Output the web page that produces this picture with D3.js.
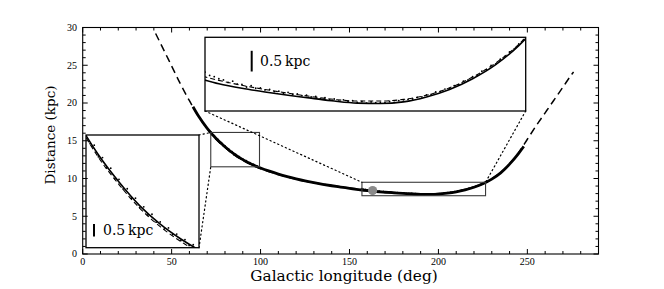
<!DOCTYPE html>
<html><head><meta charset="utf-8">
<script src="https://cdn.jsdelivr.net/npm/d3@7"></script>
<style>body{margin:0;background:#fff} svg{display:block}</style>
</head><body><svg id="c" width="664" height="289"></svg>
<script>
// ---------------- data ----------------
const modelLon  = [41,45,50,55,60,65,70,75,80,85,90,95,100,105,110,115,120,125,130,135,140,145,150,155,160,165,170,175,180,185,190,195,200,205,210,215,220,225,230,235,240,245,250,255,260,265,270,275,276];
const modelDist = [29.2,27.3,24.9,22.5,20.3,18.3,16.6,15.2,14.1,13.15,12.4,11.8,11.3,10.9,10.52,10.2,9.92,9.66,9.44,9.24,9.06,8.9,8.74,8.6,8.46,8.34,8.24,8.15,8.07,8.0,7.96,7.96,8.0,8.1,8.28,8.54,8.88,9.33,9.95,10.8,11.95,13.4,15.2,17.0,18.7,20.4,22.1,23.8,24.1];
const fitLon  = [62,65,70,75,80,85,90,95,100,105,110,115,120,125,130,135,140,145,150,155,160,165,170,175,180,185,190,195,200,205,210,215,220,225,230,235,240,245,248];
const fitDist = [19.5,18.3,16.65,15.3,14.2,13.25,12.5,11.9,11.4,10.97,10.58,10.24,9.94,9.67,9.44,9.23,9.04,8.87,8.7,8.53,8.38,8.27,8.18,8.1,8.03,7.96,7.91,7.9,7.94,8.06,8.24,8.5,8.84,9.3,9.92,10.75,11.9,13.3,14.25];
const starLon = [72,73,74,75,76,77,78,79,80,81,82,83,84,85,86,87,88,89,90,91,92,93,94,95,96,97,98,99,
  157,158,159,160,161,162,163,164,165,166,167,168,169,170,171,172,173,174,175,176,177,178,179,180,181,182,183,184,185,186,187,188,189,190,191,192,193,194,195,196,197,198,199,200,201,202,203,204,205,206,207,208,209,210,211,212,213,214,215,216,217,218,219,220,221,222,223,224,225,226];
const starDist = [16.22,15.75,15.69,15.22,15.19,14.77,14.76,14.33,14.31,13.92,13.93,13.55,13.55,13.17,13.2,12.87,12.9,12.58,12.59,12.31,12.35,12.08,12.1,11.84,11.88,11.64,11.67,11.45,
  8.66,8.58,8.55,8.5,8.47,8.41,8.44,8.37,8.36,8.3,8.33,8.27,8.28,8.23,8.24,8.19,8.2,8.15,8.17,8.12,8.13,8.09,8.1,8.06,8.07,8.02,8.04,7.99,8.01,7.96,7.99,7.95,7.97,7.93,7.95,7.91,7.94,7.92,7.93,7.92,7.95,7.93,7.97,7.96,8.0,8.01,8.05,8.06,8.11,8.12,8.18,8.19,8.25,8.26,8.33,8.36,8.44,8.47,8.55,8.58,8.68,8.72,8.82,8.86,8.97,9.04,9.15,9.22,9.34,9.43];
const sunLon = [163], sunDist = [8.4];
const zoom1Lon = [72, 99.4],  zoom1Dist = [11.55, 16.1];
const zoom2Lon = [157, 226.5], zoom2Dist = [7.72, 9.5];
const xTicks = [0,50,100,150,200,250];
const yTicks = [0,5,10,15,20,25,30];
const scaleBarKpc = 0.5;

// ---------------- layout ----------------
const svg = d3.select('#c');
const M = {l:82.7, r:598.5, t:27.5, b:254};
const x = d3.scaleLinear().domain([0,290]).range([M.l, M.r]);
const y = d3.scaleLinear().domain([0,30]).range([M.b, M.t]);
const pairs = (L, D) => L.map((l,i)=>[l, D[i]]);
const model = pairs(modelLon, modelDist), fit = pairs(fitLon, fitDist), stars = pairs(starLon, starDist);
const mkLine = (sx, sy) => d3.line().x(d=>sx(d[0])).y(d=>sy(d[1])).curve(d3.curveMonotoneX);
const defs = svg.append('defs');
defs.append('clipPath').attr('id','mainClip').append('rect')
  .attr('x',M.l).attr('y',M.t).attr('width',M.r-M.l).attr('height',M.b-M.t);

// main curves
const g = svg.append('g').attr('clip-path','url(#mainClip)');
g.append('path').datum(fit).attr('d', mkLine(x,y)).attr('fill','none').attr('stroke','#000').attr('stroke-width',2.8);
g.append('path').datum(model).attr('d', mkLine(x,y)).attr('fill','none').attr('stroke','#000').attr('stroke-width',1.5).attr('stroke-dasharray','7.5,4.6');
g.selectAll('circle.st').data(stars).join('circle').attr('class','st')
  .attr('cx',d=>x(d[0])).attr('cy',d=>y(d[1])).attr('r',0.9).attr('fill','#000');
g.selectAll('circle.sun').data(pairs(sunLon,sunDist)).join('circle').attr('class','sun')
  .attr('cx',d=>x(d[0])).attr('cy',d=>y(d[1])).attr('r',4.6).attr('fill','#8a8a8a');

// zoom rectangles
const zooms = [
  {lon:zoom1Lon, dist:zoom1Dist, box:{x0:86, x1:199, y0:135, y1:247.7}, bar:{dx:8, by:236.5}, text:{dx:17, y:235}, corners:[['x1','y0','lo','hi'],['x1','y1','lo','lo']]},
  {lon:zoom2Lon, dist:zoom2Dist, box:{x0:205, x1:525.7, y0:37.3, y1:111}, bar:{dx:46.7, by:71.5}, text:{dx:55, y:66}, corners:[['x0','y1','lo','hi'],['x1','y1','hi','hi']]}
];
zooms.forEach((z,i)=>{
  svg.append('rect').attr('x',x(z.lon[0])).attr('y',y(z.dist[1]))
    .attr('width',x(z.lon[1])-x(z.lon[0])).attr('height',y(z.dist[0])-y(z.dist[1]))
    .attr('fill','none').attr('stroke','#3a3a3a').attr('stroke-width',1.1);
  z.corners.forEach(c=>{
    const bx = z.box[c[0]], by = z.box[c[1]];
    const zx = x(c[2]==='lo'?z.lon[0]:z.lon[1]);
    const zy = y(c[3]==='lo'?z.dist[0]:z.dist[1]);
    svg.append('line').attr('x1',bx).attr('y1',by).attr('x2',zx).attr('y2',zy)
      .attr('stroke','#000').attr('stroke-width',1.2).attr('stroke-dasharray','1.2,3').attr('stroke-linecap','round');
  });
  const b = z.box;
  const ix = d3.scaleLinear().domain(z.lon).range([b.x0,b.x1]);
  const iy = d3.scaleLinear().domain(z.dist).range([b.y1,b.y0]);
  defs.append('clipPath').attr('id','ic'+i).append('rect').attr('x',b.x0).attr('y',b.y0).attr('width',b.x1-b.x0).attr('height',b.y1-b.y0);
  svg.append('rect').attr('x',b.x0).attr('y',b.y0).attr('width',b.x1-b.x0).attr('height',b.y1-b.y0).attr('fill','#fff');
  const ig = svg.append('g').attr('clip-path','url(#ic'+i+')');
  ig.append('path').datum(fit).attr('d', mkLine(ix,iy)).attr('fill','none').attr('stroke','#000').attr('stroke-width',1.6);
  ig.append('path').datum(model).attr('d', mkLine(ix,iy)).attr('fill','none').attr('stroke','#000').attr('stroke-width',1.1).attr('stroke-dasharray','5,3');
  ig.selectAll('circle').data(stars).join('circle').attr('cx',d=>ix(d[0])).attr('cy',d=>iy(d[1])).attr('r',0.9).attr('fill','#000');
  svg.append('rect').attr('x',b.x0).attr('y',b.y0).attr('width',b.x1-b.x0).attr('height',b.y1-b.y0)
    .attr('fill','none').attr('stroke','#000').attr('stroke-width',1.3);
  const len = Math.abs(iy(z.dist[0]+scaleBarKpc)-iy(z.dist[0]));
  svg.append('line').attr('x1',b.x0+z.bar.dx).attr('x2',b.x0+z.bar.dx).attr('y1',z.bar.by).attr('y2',z.bar.by-len)
    .attr('stroke','#000').attr('stroke-width',2);
  svg.append('text').attr('x',b.x0+z.text.dx).attr('y',z.text.y).text('0.5\u2009kpc')
    .attr('font-family','DejaVu Serif').attr('font-size',14).attr('fill','#000');
});

// frame and ticks
svg.append('rect').attr('x',M.l).attr('y',M.t).attr('width',M.r-M.l).attr('height',M.b-M.t)
  .attr('fill','none').attr('stroke','#000').attr('stroke-width',1.1);
const tg = svg.append('g').attr('stroke','#000').attr('stroke-width',1);
const xMinor = d3.range(0,291,10), yMinor = d3.range(0,31,1);
xMinor.forEach(v=>{ const L = xTicks.includes(v)?5:3;
  tg.append('line').attr('x1',x(v)).attr('x2',x(v)).attr('y1',M.b).attr('y2',M.b-L);
  tg.append('line').attr('x1',x(v)).attr('x2',x(v)).attr('y1',M.t).attr('y2',M.t+L); });
yMinor.forEach(v=>{ const L = yTicks.includes(v)?5:3;
  tg.append('line').attr('y1',y(v)).attr('y2',y(v)).attr('x1',M.l).attr('x2',M.l+L);
  tg.append('line').attr('y1',y(v)).attr('y2',y(v)).attr('x1',M.r).attr('x2',M.r-L); });
const tfFam = 'Liberation Serif', tfSize = 10;
xTicks.forEach(v=> svg.append('text').attr('x',x(v)).attr('y',265).attr('text-anchor','middle')
  .attr('font-family',tfFam).attr('font-size',tfSize).text(v));
yTicks.forEach(v=> svg.append('text').attr('x',77).attr('y',y(v)+3.4).attr('text-anchor','end')
  .attr('font-family',tfFam).attr('font-size',tfSize).text(v));
svg.append('text').attr('x',344).attr('y',281).attr('text-anchor','middle')
  .attr('font-family','DejaVu Serif').attr('font-size',15.3).text('Galactic longitude (deg)');
svg.append('text').attr('transform','translate(55,135) rotate(-90)').attr('text-anchor','middle')
  .attr('font-family','DejaVu Serif').attr('font-size',13.5).text('Distance (kpc)');
</script></body></html>
